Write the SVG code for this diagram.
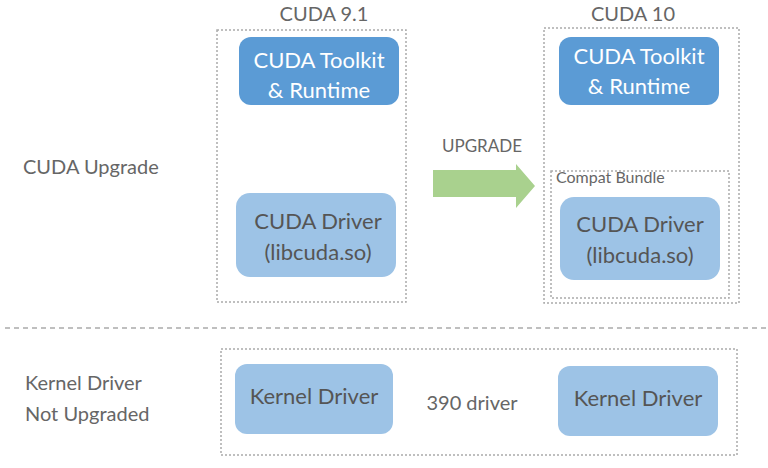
<svg xmlns="http://www.w3.org/2000/svg" width="768" height="468" viewBox="0 0 768 468">
<style>
text{font-family:Lato,"Open Sans",sans-serif;fill:#666;}
.dot{fill:none;stroke:#aaa;stroke-width:1.5;stroke-dasharray:2 2;}
.dark{fill:#5b9bd5;}
.light{fill:#9dc3e6;}
.w{fill:#fff;font-size:22px;text-anchor:middle;}
.g{fill:#555;font-size:22px;text-anchor:middle;}
.lbl{font-size:20px;}
</style>
<rect width="768" height="468" fill="#fff"/>
<g id="labels">
<text class="lbl" x="23" y="174">CUDA Upgrade</text>
<text class="lbl" x="25" y="390">Kernel Driver</text>
<text class="lbl" x="25" y="421">Not Upgraded</text>
<text class="lbl" x="324" y="21" text-anchor="middle">CUDA 9.1</text>
<text class="lbl" x="633" y="21" text-anchor="middle">CUDA 10</text>
<text x="482" y="152" font-size="17" text-anchor="middle">UPGRADE</text>
<text x="472" y="410" font-size="20" text-anchor="middle">390 driver</text>
</g>
<g id="containers">
<rect class="dot" x="217" y="30" width="189" height="272"/>
<rect class="dot" x="544" y="28" width="195" height="275"/>
<rect class="dot" x="551" y="171" width="178" height="127"/>
<text x="556" y="183" font-size="16">Compat Bundle</text>
<rect class="dot" x="221" y="349" width="516" height="106"/>
<line x1="5" y1="328" x2="768" y2="328" stroke="#aaa" stroke-width="1.5" stroke-dasharray="5 4"/>
</g>
<g id="toolkit91"><rect class="dark" x="239" y="37" width="160" height="68" rx="12"/><text class="w" x="319" y="68">CUDA Toolkit</text><text class="w" x="319" y="98">&amp; Runtime</text></g>
<g id="driver91"><rect class="light" x="236" y="193" width="160" height="84" rx="14"/><text class="g" x="318" y="229">CUDA Driver</text><text class="g" x="318" y="260">(libcuda.so)</text></g>
<g id="toolkit10"><rect class="dark" x="559" y="37" width="160" height="68" rx="12"/><text class="w" x="639" y="64">CUDA Toolkit</text><text class="w" x="639" y="94">&amp; Runtime</text></g>
<g id="driver10"><rect class="light" x="560" y="197" width="160" height="83" rx="14"/><text class="g" x="640" y="232">CUDA Driver</text><text class="g" x="640" y="263">(libcuda.so)</text></g>
<g id="kernel1"><rect class="light" x="235" y="364" width="158" height="70" rx="12"/><text class="g" x="314" y="404" font-size="20">Kernel Driver</text></g>
<g id="kernel2"><rect class="light" x="558" y="366" width="160" height="70" rx="12"/><text class="g" x="638" y="406" font-size="20">Kernel Driver</text></g>
<g id="connectors"><polygon points="433,170 516,170 516,164 535,186 516,208 516,197 433,197" fill="#a9d18e"/></g>
</svg>
